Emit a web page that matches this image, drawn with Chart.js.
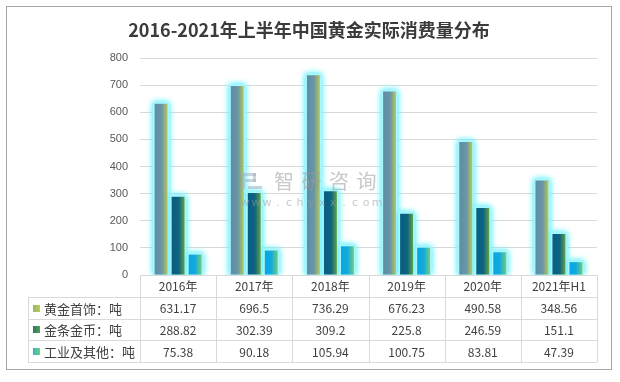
<!DOCTYPE html>
<html><head><meta charset="utf-8">
<script src="https://cdn.jsdelivr.net/npm/chart.js@4/dist/chart.umd.min.js"></script>
<style>html,body{margin:0;padding:0;background:#fff}#wrap{width:620px;height:382px;position:relative}</style>
</head><body><div id="wrap"><canvas id="c" width="620" height="382"></canvas></div>
<script>
const chartTitle = '2016-2021年上半年中国黄金实际消费量分布';
const categories = ['2016年','2017年','2018年','2019年','2020年','2021年H1'];
const seriesNames = ['黄金首饰：吨','金条金币：吨','工业及其他：吨'];
const jewelry = [631.17, 696.5, 736.29, 676.23, 490.58, 348.56];
const barsCoins = [288.82, 302.39, 309.2, 225.8, 246.59, 151.1];
const industrial = [75.38, 90.18, 105.94, 100.75, 83.81, 47.39];
const yTickValues = [0, 100, 200, 300, 400, 500, 600, 700, 800];

const seriesValues = [jewelry, barsCoins, industrial];
const barStops = [
  [[0,'#5d8ea8'],[0.55,'#6a95a4'],[1,'#b4c95a']],
  [[0,'#0a5d80'],[0.55,'#0d6480'],[1,'#62a048']],
  [[0,'#08a6e2'],[0.5,'#12aade'],[1,'#70cc7c']]
];
const legendStops = [
  [[0,'#98b868'],[1,'#b8cc58']],
  [[0,'#2a7a68'],[1,'#5a9e48']],
  [[0,'#30b8c0'],[1,'#6cd080']]
];

const gradPlugin = {
  id: 'grad',
  beforeDatasetsDraw(chart) {
    const ctx = chart.ctx;
    const ca = chart.chartArea;
    ctx.save();
    ctx.beginPath();
    ctx.rect(ca.left, 0, ca.right - ca.left, ca.bottom);
    ctx.clip();
    chart.data.datasets.forEach((ds, di) => {
      const meta = chart.getDatasetMeta(di);
      meta.data.forEach(el => {
        const l = el.x - el.width / 2, r = el.x + el.width / 2;
        // glow
        ctx.shadowColor = 'rgba(110,240,255,1)';
        ctx.shadowBlur = 6;
        ctx.fillStyle = 'rgba(170,248,255,1)';
        for (let p = 0; p < 2; p++) ctx.fillRect(l - 1.5, el.y - 1.5, el.width + 3, el.base - el.y + 1.5);
        const g = ctx.createLinearGradient(l, 0, r, 0);
        barStops[di].forEach(s => g.addColorStop(s[0], s[1]));
        el.options = Object.assign({}, el.options, { backgroundColor: g });
      });
    });
    ctx.restore();
  }
};

const decoPlugin = {
  id: 'deco',
  afterDraw(chart) {
    const ctx = chart.ctx;
    const ca = chart.chartArea;
    const xs = chart.scales.x;
    ctx.save();
    // outer border
    ctx.strokeStyle = '#a6a6a6';
    ctx.lineWidth = 1;
    ctx.strokeRect(6.5, 6.5, 605, 363);
    // title
    ctx.fillStyle = '#3b3b3b';
    ctx.font = 'bold 18px "Noto Sans CJK SC", sans-serif';
    ctx.textAlign = 'center';
    ctx.textBaseline = 'middle';
    ctx.fillText(chartTitle, 309, 30);

    // watermark
    ctx.globalAlpha = 0.55;
    ctx.fillStyle = '#a4b0c0';
    ctx.fillRect(242, 173, 14, 3);
    ctx.fillRect(242, 173, 3, 16);
    ctx.fillRect(253, 173, 3, 9);
    ctx.fillRect(245, 179, 11, 3);
    ctx.fillRect(248, 186, 14, 3);
    ctx.fillStyle = '#9a9a9a';
    ctx.font = '20px "Noto Sans CJK SC", sans-serif';
    ctx.textAlign = 'center';
    ctx.textBaseline = 'middle';
    const wmc = '智研咨询';
    for (let i = 0; i < wmc.length; i++) ctx.fillText(wmc[i], 284 + i * 27.5, 181);
    ctx.font = '11px "DejaVu Sans", sans-serif';
    const wm = 'www.chyxx.com';
    for (let i = 0; i < wm.length; i++) ctx.fillText(wm[i], 245 + i * 11, 203);
    ctx.globalAlpha = 1;

    // data table
    const n = categories.length;
    const colW = (ca.right - ca.left) / n;
    const rowH = 21.75;
    const top = ca.bottom;
    const tableLeft = 28;
    ctx.strokeStyle = '#d9d9d9';
    ctx.lineWidth = 1;
    ctx.beginPath();
    for (let i = 0; i <= n; i++) {
      const x = Math.round(ca.left + i * colW) + 0.5;
      ctx.moveTo(x, top); ctx.lineTo(x, top + 4 * rowH);
    }
    ctx.moveTo(tableLeft + 0.5, top + rowH); ctx.lineTo(tableLeft + 0.5, top + 4 * rowH);
    for (let r = 0; r <= 4; r++) {
      const y = Math.round(top + r * rowH) + 0.5;
      ctx.moveTo(r === 0 ? ca.left : tableLeft, y); ctx.lineTo(ca.right, y);
    }
    ctx.stroke();

    ctx.fillStyle = '#404040';
    ctx.font = '12px "Noto Sans CJK SC", sans-serif';
    ctx.textAlign = 'center';
    ctx.textBaseline = 'middle';
    for (let i = 0; i < n; i++) {
      const cx = xs.getPixelForValue(i);
      ctx.fillText(categories[i], cx, top + rowH / 2 + 1);
      for (let s = 0; s < seriesValues.length; s++) {
        ctx.fillText(String(seriesValues[s][i]), cx, top + (s + 1.5) * rowH + 1);
      }
    }
    ctx.textAlign = 'left';
    ctx.font = '13px "Noto Sans CJK SC", sans-serif';
    for (let s = 0; s < seriesNames.length; s++) {
      const cy = top + (s + 1.5) * rowH;
      const g = ctx.createLinearGradient(33, 0, 40, 0);
      legendStops[s].forEach(st => g.addColorStop(st[0], st[1]));
      ctx.fillStyle = g;
      ctx.fillRect(33, Math.round(cy) - 3, 7, 7);
      ctx.fillStyle = '#404040';
      ctx.fillText(seriesNames[s], 44, cy + 1);
    }
    ctx.restore();
  }
};

new Chart(document.getElementById('c'), {
  type: 'bar',
  data: {
    labels: categories,
    datasets: seriesNames.map((name, i) => ({
      label: name,
      data: seriesValues[i],
      backgroundColor: barStops[i][0][1],
      borderWidth: 0,
      categoryPercentage: 0.67,
      barPercentage: 0.76
    }))
  },
  options: {
    responsive: false,
    devicePixelRatio: 1,
    animation: false,
    layout: { padding: { left: 0, right: 23, top: 58, bottom: 107 } },
    plugins: { legend: { display: false }, title: { display: false }, tooltip: { enabled: false } },
    scales: {
      x: { display: false },
      y: {
        min: 0, max: 800,
        afterFit(s) { s.width = 140; },
        afterBuildTicks(s) { s.ticks = yTickValues.map(v => ({ value: v })); },
        ticks: { padding: 12, color: '#595959', font: { size: 11, family: '"Liberation Sans", sans-serif' } },
        grid: { color: '#d9d9d9', drawTicks: false },
        border: { display: false }
      }
    }
  },
  plugins: [gradPlugin, decoPlugin]
});
</script>
</body></html>
